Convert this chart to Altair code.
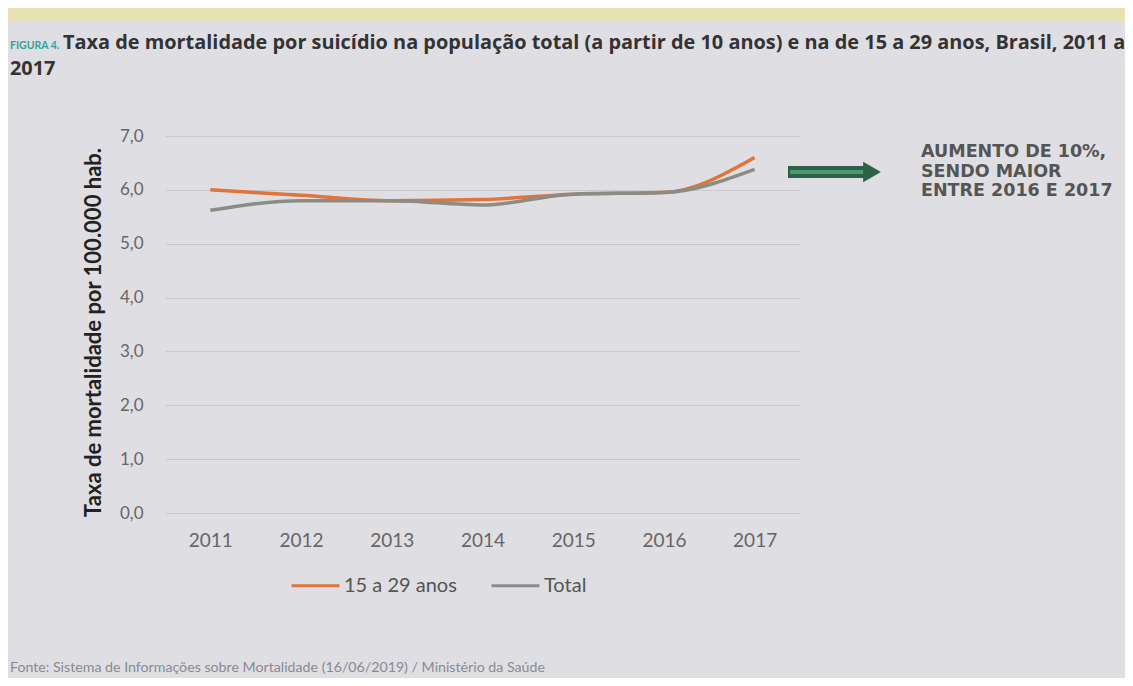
import altair as alt
import pandas as pd

years = ["2011", "2012", "2013", "2014", "2015", "2016", "2017"]
jovens = [6.0, 5.9, 5.8, 5.82, 5.92, 5.95, 6.6]
total = [5.62, 5.8, 5.8, 5.72, 5.92, 5.95, 6.38]
series_names = ["15 a 29 anos", "Total"]
series_colors = ["#e0743a", "#8c8c86"]
y_ticks = [0, 1, 2, 3, 4, 5, 6, 7]

title_tag = "FIGURA 4."
title_line1 = "Taxa de mortalidade por suicídio na população total (a partir de 10 anos) e na de 15 a 29 anos, Brasil, 2011 a"
title_line2 = "2017"
annot_lines = ["AUMENTO DE 10%,", "SENDO MAIOR", "ENTRE 2016 E 2017"]
footer = "Fonte: Sistema de Informações sobre Mortalidade (16/06/2019) / Ministério da Saúde"
y_title = "Taxa de mortalidade por 100.000 hab."

rows = []
for i, yv in enumerate(years):
    rows.append({"ano": yv, "serie": series_names[0], "taxa": jovens[i]})
    rows.append({"ano": yv, "serie": series_names[1], "taxa": total[i]})
df = pd.DataFrame(rows)

BG = "#dfdee3"
TXT = "'Lato', 'Open Sans', sans-serif"
TTL = "'Open Sans', 'Lato', sans-serif"

lines = alt.Chart(df).mark_line(strokeWidth=3.5, interpolate="monotone").encode(
    x=alt.X("ano:O", sort=years, scale=alt.Scale(padding=0.5),
            axis=alt.Axis(title=None, labelAngle=0, domain=False, ticks=False,
                          labelPadding=18, labelColor="#666", labelFontSize=19,
                          labelFont=TXT)),
    y=alt.Y("taxa:Q", scale=alt.Scale(domain=[0, 7], nice=False),
            axis=alt.Axis(title=y_title, values=y_ticks, domain=False, ticks=False,
                          labelPadding=22, labelColor="#666", labelFontSize=17, labelFont=TXT,
                          labelExpr="replace(format(datum.value, '.1f'), '.', ',')",
                          gridColor="#c9c9cd", gridWidth=1,
                          titleFont=TXT, titleFontSize=22, titleFontWeight="bold",
                          titleColor="#222", titleX=-72, titleY=196, titleAngle=270,
                          titleAlign="center", titleBaseline="middle")),
    color=alt.Color("serie:N", sort=series_names,
                    scale=alt.Scale(domain=series_names, range=series_colors),
                    legend=alt.Legend(title=None, orient="none", legendX=125, legendY=424,
                                      direction="horizontal", symbolType="stroke",
                                      symbolSize=2300, symbolStrokeWidth=3,
                                      labelFontSize=20, labelColor="#555", labelFont=TXT,
                                      columnPadding=28, labelOffset=3)),
)

def text_layer(txt, x, y, size, color, weight="normal", font=TXT):
    return alt.Chart(pd.DataFrame({"t": [txt]})).mark_text(
        align="left", baseline="alphabetic", fontSize=size, color=color,
        fontWeight=weight, font=font
    ).encode(text="t:N", x=alt.value(x), y=alt.value(y))

strip = alt.Chart(pd.DataFrame({"a": [0]})).mark_rect(color="#e7e2b4").encode(
    x=alt.value(-165), x2=alt.value(960), y=alt.value(-128), y2=alt.value(-114))

layers = [strip, lines]
layers.append(text_layer(title_tag, 10 - 165, 49 - 136, 10.5, "#2fa39a", "bold"))
layers.append(text_layer(title_line1, 63 - 165, 49 - 136, 19.9, "#333", "bold", TTL))
layers.append(text_layer(title_line2, 10 - 165, 75 - 136, 19.9, "#333", "bold", TTL))
for i, s in enumerate(annot_lines):
    layers.append(text_layer(s, 921 - 165, 157 - 136 + i * 19.5, 17.5, "#555", "bold",
                             "'DejaVu Sans', sans-serif"))
layers.append(text_layer(footer, 10 - 165, 672 - 136, 14.2, "#8a8a92"))

shaft = alt.Chart(pd.DataFrame({"a": [0]})).mark_rule(color="#2c6148", strokeWidth=12).encode(
    x=alt.value(788 - 165), x2=alt.value(866 - 165), y=alt.value(172 - 136))
shaft_in = alt.Chart(pd.DataFrame({"a": [0]})).mark_rule(color="#4b9a73", strokeWidth=4).encode(
    x=alt.value(790 - 165), x2=alt.value(866 - 165), y=alt.value(172 - 136))
head = alt.Chart(pd.DataFrame({"a": [0]})).mark_point(
    shape="triangle-right", filled=True, color="#2c6148", size=420, opacity=1).encode(
    x=alt.value(872 - 165), y=alt.value(172 - 136))
layers += [shaft, shaft_in, head]

chart = alt.layer(*layers).properties(
    width=635, height=377,
    autosize=alt.AutoSizeParams(type="none"),
    padding={"left": 157, "top": 128, "right": 325, "bottom": 165},
).configure(background=BG).configure_view(stroke=None)

chart.save("out.html", embed_options={"renderer": "svg", "actions": False})
